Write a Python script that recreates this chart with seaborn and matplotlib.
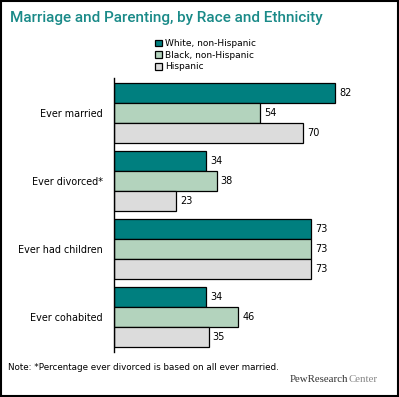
import matplotlib
matplotlib.use("Agg")
import matplotlib.pyplot as plt
import seaborn as sns
import pandas as pd
from matplotlib.patches import Rectangle

categories = ["Ever married", "Ever divorced*", "Ever had children", "Ever cohabited"]
groups = ["White, non-Hispanic", "Black, non-Hispanic", "Hispanic"]
white = [82, 34, 73, 34]
black = [54, 38, 73, 46]
hispanic = [70, 23, 73, 35]
colors = ["#007f7f", "#b3d3bd", "#dcdcdc"]

rows = []
for g, vals in zip(groups, [white, black, hispanic]):
    for c, v in zip(categories, vals):
        rows.append({"category": c, "group": g, "value": v})
df = pd.DataFrame(rows)

sns.set_style("white")
plt.rcParams["font.family"] = ["DejaVu Sans"]
plt.rcParams["text.color"] = "black"
plt.rcParams["ytick.color"] = "black"

fig = plt.figure(figsize=(3.99, 3.97), dpi=100)
ax = fig.add_axes([114/399, 1-352/397, 270/399, 274/397])

sns.barplot(data=df, y="category", x="value", hue="group", order=categories,
            hue_order=groups, palette=colors, width=60/68, edgecolor="black",
            linewidth=0.9, orient="h", ax=ax, saturation=1)

for cont in ax.containers:
    ax.bar_label(cont, padding=3, fontsize=7, color="black")

ax.set_xlim(0, 100)
ax.set_ylim(3 + 0.441 + 5/68, -0.441 - 5/68)
ax.set_xlabel("")
ax.set_ylabel("")
ax.set_xticks([])
ax.tick_params(axis="y", length=0, pad=8, labelsize=6.9, labelcolor="black")
for s in ["top", "right", "bottom"]:
    ax.spines[s].set_visible(False)
ax.spines["left"].set_linewidth(1.0)
ax.spines["left"].set_color("black")

leg = ax.legend(loc="upper left", bbox_to_anchor=(155/399, 1-39/397),
                bbox_transform=fig.transFigure, frameon=False, fontsize=6.5,
                handlelength=0.75, handleheight=0.75, handletextpad=0.35,
                labelspacing=0.3, borderpad=0, borderaxespad=0)
for t in leg.get_texts():
    t.set_color("black")

fig.text(10/399, 1-18/397, "Marriage and Parenting, by Race and Ethnicity",
         color="#1a8a88", fontsize=11, family="Roboto", fontweight="medium",
         va="center", ha="left")
fig.text(8/399, 1-367/397, "Note: *Percentage ever divorced is based on all ever married.",
         fontsize=6.35, va="center", ha="left")
t1 = fig.text(290/399, 1-382/397, "PewResearch", family="Liberation Serif",
              fontsize=7.8, color="#333333", va="baseline", ha="left")
fig.add_artist(matplotlib.text.Annotation("Center", xy=(1, 0), xycoords=t1,
               family="Liberation Serif", fontsize=7.8, color="#888888",
               va="bottom", ha="left"))

fig.add_artist(Rectangle((0.002, 0.002), 0.996, 0.996, transform=fig.transFigure,
                         fill=False, edgecolor="black", linewidth=1.5))

fig.savefig("out.png", dpi=100, facecolor="white")
